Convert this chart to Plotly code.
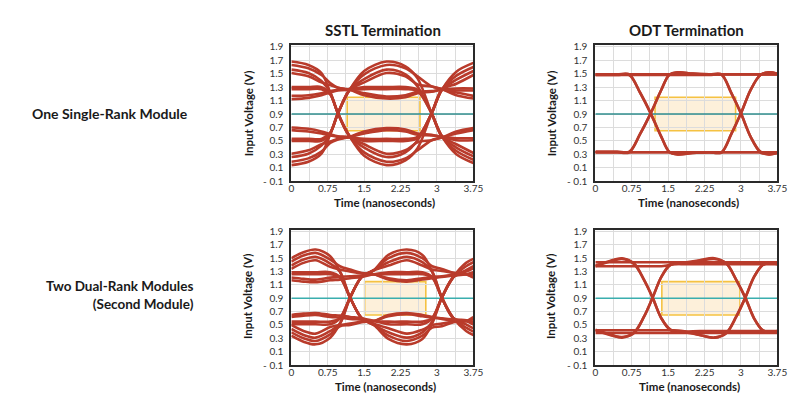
import plotly.graph_objects as go

# ---------------- data ----------------
x_tick_vals = [0, 0.375, 0.75, 1.125, 1.5, 1.875, 2.25, 2.625, 3, 3.375, 3.75]
x_tick_text = ["0", "", "0.75", "", "1.5", "", "2.25", "", "3", "", "3.75"]
y_tick_vals = [-0.1, 0.1, 0.3, 0.5, 0.7, 0.9, 1.1, 1.3, 1.5, 1.7, 1.9]
y_tick_text = ["- 0.1", "0.1", "0.3", "0.5", "0.7", "0.9", "1.1", "1.3", "1.5", "1.7", "1.9"]

threshold_v = 0.9
window_v_low = 0.65
window_v_high = 1.15
window_t_start = [1.15, 1.23, 1.51, 1.37]   # SSTL-1, ODT-1, SSTL-2, ODT-2
window_t_end = [2.65, 2.89, 2.77, 2.98]

# SSTL termination, one single-rank module
t_sstl_one = [0, 0.35, 0.62, 0.8, 0.96, 1.2, 1.5, 1.96, 2.35, 2.6, 2.89, 3.1, 3.4, 3.75]
v_sstl_one = [
    [1.68, 1.63, 1.51, 1.22, 0.91, 0.57, 0.28, 0.14, 0.21, 0.39, 0.91, 1.26, 1.53, 1.66],
    [1.56, 1.51, 1.39, 1.22, 0.91, 0.57, 0.40, 0.26, 0.33, 0.51, 0.91, 1.26, 1.41, 1.54],
    [1.30, 1.30, 1.30, 1.20, 0.91, 0.57, 0.33, 0.19, 0.24, 0.36, 0.51, 0.55, 0.64, 0.69],
    [1.27, 1.27, 1.27, 1.19, 0.91, 0.57, 0.45, 0.31, 0.36, 0.48, 0.51, 0.55, 0.61, 0.66],
    [0.14, 0.19, 0.31, 0.60, 0.91, 1.26, 1.54, 1.68, 1.61, 1.43, 0.91, 0.57, 0.30, 0.17],
    [0.26, 0.31, 0.43, 0.60, 0.91, 1.26, 1.42, 1.56, 1.49, 1.31, 0.91, 0.57, 0.40, 0.27],
    [0.53, 0.53, 0.53, 0.62, 0.91, 1.26, 1.49, 1.63, 1.58, 1.46, 1.31, 1.27, 1.18, 1.13],
    [0.50, 0.50, 0.50, 0.62, 0.91, 1.26, 1.37, 1.51, 1.46, 1.34, 1.31, 1.27, 1.22, 1.17],
    [1.63, 1.58, 1.48, 1.36, 1.29, 1.26, 1.18, 1.13, 1.15, 1.21, 1.23, 1.26, 1.28, 1.28],
    [1.51, 1.46, 1.37, 1.33, 1.29, 1.26, 1.21, 1.16, 1.18, 1.23, 1.24, 1.26, 1.25, 1.25],
    [1.17, 1.18, 1.21, 1.24, 1.26, 1.27, 1.30, 1.30, 1.30, 1.26, 0.91, 0.57, 0.35, 0.22],
    [1.12, 1.14, 1.18, 1.22, 1.25, 1.26, 1.27, 1.27, 1.27, 1.24, 0.91, 0.57, 0.45, 0.32],
    [0.19, 0.24, 0.34, 0.47, 0.52, 0.56, 0.64, 0.69, 0.67, 0.61, 0.59, 0.56, 0.54, 0.54],
    [0.31, 0.36, 0.45, 0.49, 0.53, 0.56, 0.61, 0.66, 0.64, 0.59, 0.58, 0.56, 0.51, 0.51],
    [0.66, 0.64, 0.61, 0.58, 0.56, 0.55, 0.53, 0.53, 0.53, 0.56, 0.91, 1.26, 1.47, 1.60],
    [0.70, 0.68, 0.64, 0.60, 0.57, 0.56, 0.50, 0.50, 0.50, 0.54, 0.91, 1.26, 1.35, 1.48],
]

# ODT termination, one single-rank module
t_odt_one = [0, 0.45, 0.7, 0.92, 1.14, 1.36, 1.52, 1.7, 2.0, 2.35, 2.6, 2.8, 3.0, 3.2, 3.4, 3.58, 3.75]
v_odt_one = [
    [1.49, 1.49, 1.49, 1.49, 1.49, 1.49, 1.49, 1.49, 1.49, 1.49, 1.49, 1.49, 1.49, 1.49, 1.49, 1.49, 1.49],
    [0.33, 0.33, 0.33, 0.33, 0.33, 0.33, 0.33, 0.33, 0.33, 0.33, 0.33, 0.33, 0.33, 0.33, 0.33, 0.33, 0.33],
    [1.48, 1.48, 1.48, 1.48, 1.48, 1.48, 1.48, 1.48, 1.48, 1.48, 1.48, 1.21, 0.91, 0.56, 0.33, 0.30, 0.32],
    [1.49, 1.49, 1.49, 1.22, 0.91, 0.56, 0.34, 0.30, 0.32, 0.33, 0.33, 0.33, 0.33, 0.33, 0.33, 0.33, 0.33],
    [1.48, 1.48, 1.48, 1.22, 0.91, 0.56, 0.34, 0.30, 0.32, 0.33, 0.33, 0.60, 0.91, 1.26, 1.48, 1.52, 1.50],
    [0.33, 0.33, 0.33, 0.60, 0.91, 1.26, 1.48, 1.52, 1.50, 1.49, 1.49, 1.22, 0.91, 0.56, 0.34, 0.30, 0.32],
    [0.34, 0.34, 0.34, 0.60, 0.91, 1.26, 1.48, 1.52, 1.50, 1.49, 1.49, 1.49, 1.49, 1.49, 1.49, 1.49, 1.49],
    [0.33, 0.33, 0.33, 0.33, 0.33, 0.33, 0.33, 0.33, 0.33, 0.33, 0.33, 0.60, 0.91, 1.26, 1.48, 1.52, 1.50],
]

# SSTL termination, two dual-rank modules (second module)
t_sstl_two = [0, 0.25, 0.5, 0.8, 1.0, 1.21, 1.45, 1.7, 2.0, 2.38, 2.7, 2.9, 3.1, 3.34, 3.6, 3.75]
v_sstl_two = [
    [1.50, 1.59, 1.63, 1.53, 1.30, 0.91, 0.60, 0.50, 0.29, 0.21, 0.29, 0.52, 0.91, 1.22, 1.43, 1.49],
    [1.39, 1.48, 1.52, 1.42, 1.30, 0.91, 0.60, 0.50, 0.39, 0.31, 0.39, 0.55, 0.91, 1.22, 1.32, 1.38],
    [1.29, 1.29, 1.29, 1.29, 1.22, 0.91, 0.60, 0.50, 0.34, 0.26, 0.34, 0.46, 0.48, 0.54, 0.56, 0.59],
    [1.26, 1.26, 1.26, 1.26, 1.21, 0.91, 0.60, 0.52, 0.45, 0.37, 0.43, 0.50, 0.52, 0.55, 0.56, 0.62],
    [0.34, 0.25, 0.21, 0.31, 0.52, 0.91, 1.22, 1.32, 1.55, 1.63, 1.55, 1.30, 0.91, 0.60, 0.41, 0.35],
    [0.44, 0.35, 0.31, 0.41, 0.52, 0.91, 1.22, 1.32, 1.44, 1.52, 1.44, 1.30, 0.91, 0.60, 0.51, 0.45],
    [0.55, 0.55, 0.55, 0.55, 0.60, 0.91, 1.22, 1.32, 1.50, 1.58, 1.50, 1.38, 1.34, 1.28, 1.26, 1.21],
    [0.51, 0.51, 0.51, 0.51, 0.60, 0.91, 1.22, 1.32, 1.39, 1.47, 1.39, 1.33, 1.31, 1.28, 1.26, 1.22],
    [1.45, 1.54, 1.58, 1.48, 1.38, 1.33, 1.28, 1.26, 1.18, 1.15, 1.18, 1.20, 1.22, 1.24, 1.26, 1.29],
    [1.34, 1.43, 1.47, 1.37, 1.33, 1.30, 1.27, 1.26, 1.20, 1.17, 1.20, 1.22, 1.23, 1.25, 1.26, 1.26],
    [1.21, 1.19, 1.18, 1.21, 1.22, 1.23, 1.24, 1.26, 1.29, 1.29, 1.29, 1.22, 0.91, 0.60, 0.46, 0.40],
    [1.17, 1.15, 1.14, 1.17, 1.18, 1.20, 1.22, 1.26, 1.26, 1.26, 1.26, 1.21, 0.91, 0.60, 0.57, 0.51],
    [0.39, 0.30, 0.26, 0.36, 0.48, 0.50, 0.54, 0.56, 0.63, 0.66, 0.63, 0.61, 0.59, 0.57, 0.56, 0.55],
    [0.50, 0.41, 0.37, 0.47, 0.50, 0.52, 0.55, 0.56, 0.65, 0.68, 0.65, 0.62, 0.60, 0.58, 0.56, 0.51],
    [0.62, 0.64, 0.65, 0.62, 0.61, 0.59, 0.58, 0.56, 0.55, 0.55, 0.55, 0.60, 0.91, 1.22, 1.38, 1.44],
    [0.65, 0.67, 0.68, 0.65, 0.64, 0.62, 0.60, 0.56, 0.51, 0.51, 0.51, 0.60, 0.91, 1.22, 1.30, 1.35],
]

# ODT termination, two dual-rank modules (second module)
t_odt_two = [0, 0.3, 0.55, 0.8, 1.0, 1.18, 1.36, 1.55, 1.8, 2.15, 2.45, 2.7, 2.9, 3.09, 3.27, 3.45, 3.6, 3.75]
v_odt_two = [
    [1.44, 1.44, 1.44, 1.44, 1.44, 1.44, 1.44, 1.44, 1.44, 1.44, 1.44, 1.44, 1.44, 1.44, 1.44, 1.44, 1.44, 1.44],
    [0.38, 0.38, 0.38, 0.38, 0.38, 0.38, 0.38, 0.38, 0.38, 0.38, 0.38, 0.38, 0.38, 0.38, 0.38, 0.38, 0.38, 0.38],
    [1.38, 1.38, 1.38, 1.38, 1.38, 1.38, 1.38, 1.40, 1.42, 1.46, 1.49, 1.42, 1.18, 0.91, 0.60, 0.42, 0.39, 0.41],
    [1.38, 1.45, 1.49, 1.41, 1.18, 0.91, 0.60, 0.42, 0.40, 0.41, 0.41, 0.41, 0.41, 0.41, 0.41, 0.41, 0.41, 0.41],
    [1.39, 1.46, 1.50, 1.42, 1.18, 0.91, 0.60, 0.43, 0.40, 0.35, 0.31, 0.38, 0.62, 0.91, 1.22, 1.40, 1.43, 1.42],
    [0.43, 0.36, 0.31, 0.39, 0.62, 0.91, 1.22, 1.40, 1.43, 1.47, 1.50, 1.42, 1.18, 0.91, 0.60, 0.42, 0.39, 0.40],
    [0.42, 0.35, 0.32, 0.38, 0.62, 0.91, 1.22, 1.41, 1.41, 1.41, 1.41, 1.41, 1.41, 1.41, 1.41, 1.41, 1.41, 1.41],
    [0.42, 0.42, 0.42, 0.42, 0.42, 0.42, 0.42, 0.42, 0.41, 0.35, 0.31, 0.38, 0.62, 0.91, 1.22, 1.40, 1.43, 1.41],
]

# ---------------- styling / layout ----------------
FONT = "Lato"
RED = "#b93b2b"
GRID = "#dcdcdc"
FRAME = "#2a2a2a"
W, H = 800, 399

col_x = [(285, 470), (594, 779)]          # pixel extents of the plot frames
row_y = [(33, 173), (223, 362)]
teal_colors = ["#2f8e8e", "#3aaeae"]

panels = [
    (t_sstl_one, v_sstl_one, 0, 0),
    (t_odt_one, v_odt_one, 1, 0),
    (t_sstl_two, v_sstl_two, 0, 1),
    (t_odt_two, v_odt_two, 1, 1),
]

fig = go.Figure()
layout_axes = {}
shapes = []

for i, (t, vs, c, r) in enumerate(panels):
    n = "" if i == 0 else str(i + 1)
    xa, ya = "x" + n, "y" + n
    x0p, x1p = col_x[c]
    y0p, y1p = row_y[r]
    layout_axes["xaxis" + n] = dict(
        domain=[x0p / W, x1p / W], anchor=ya, range=[0, 3.75],
        tickmode="array", tickvals=x_tick_vals, ticktext=x_tick_text,
        showgrid=True, gridcolor=GRID, gridwidth=1, zeroline=False,
        showline=True, mirror=True, linecolor=FRAME, linewidth=2,
        ticks="", tickfont=dict(family=FONT, size=10, color="#333333"),
        ticklabelstandoff=-3, fixedrange=True,
    )
    layout_axes["yaxis" + n] = dict(
        domain=[1 - y1p / H, 1 - y0p / H], anchor=xa, range=[-0.1, 1.925],
        tickmode="array", tickvals=y_tick_vals, ticktext=y_tick_text,
        showgrid=True, gridcolor=GRID, gridwidth=1, zeroline=False,
        showline=True, mirror=True, linecolor=FRAME, linewidth=2,
        ticks="", tickfont=dict(family=FONT, size=10, color="#333333"),
        ticklabelstandoff=4, fixedrange=True,
    )
    shapes.append(dict(
        type="rect", xref=xa, yref=ya,
        x0=window_t_start[i], x1=window_t_end[i], y0=window_v_low, y1=window_v_high,
        fillcolor="#fdf0da", line=dict(color="#f5c242", width=1.6), layer="below",
    ))
    fig.add_trace(go.Scatter(
        x=[0, 3.75], y=[threshold_v, threshold_v], xaxis=xa, yaxis=ya, mode="lines",
        line=dict(color=teal_colors[r], width=1.5), showlegend=False, hoverinfo="skip",
    ))
    for v in vs:
        fig.add_trace(go.Scatter(
            x=t, y=v, xaxis=xa, yaxis=ya, mode="lines",
            line=dict(color=RED, width=2.6, shape="spline", smoothing=0.9),
            showlegend=False, hoverinfo="skip", cliponaxis=True,
        ))

annotations = []


def ann(text, xp, yp, size, angle=0, xanchor="center", align="center"):
    annotations.append(dict(
        text=text, x=xp / W, y=1 - yp / H, xref="paper", yref="paper",
        showarrow=False, textangle=angle, xanchor=xanchor, yanchor="middle", align=align,
        font=dict(family=FONT, size=size, color="#1a1a1a"),
    ))


ann("<b>SSTL Termination</b>", 378, 17, 15)
ann("<b>ODT Termination</b>", 687, 17, 15)
ann("<b>One Single-Rank Module</b>", 101, 103, 14)
ann("<b>Two Dual-Rank Modules<br>(Second Module)</b>", 188, 290, 13.5, xanchor="right", align="right")
for (cx, cy) in [(380, 195), (689, 195), (381, 384), (690, 384)]:
    ann("<b>Time (nanoseconds)</b>", cx, cy, 11.5)
for (cx, cy) in [(241, 103), (549, 103), (241, 291), (549, 291)]:
    ann("<b>Input Voltage (V)</b>", cx, cy, 11.5, angle=-90)

fig.update_layout(
    width=W, height=H, margin=dict(l=0, r=0, t=0, b=0),
    paper_bgcolor="white", plot_bgcolor="white",
    showlegend=False, shapes=shapes, annotations=annotations,
    **layout_axes,
)

fig.write_html("out.html")
